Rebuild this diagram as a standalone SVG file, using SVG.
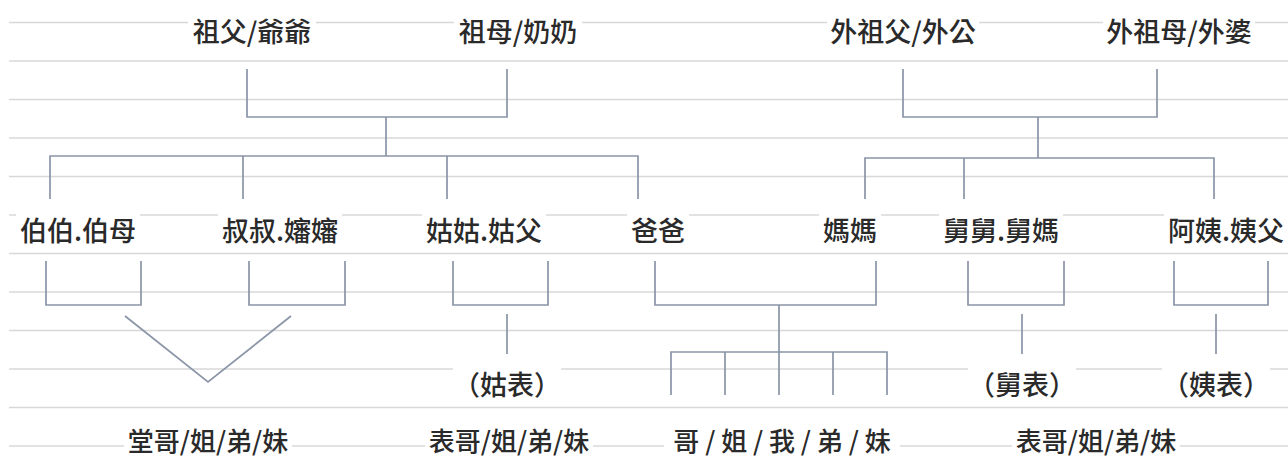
<svg xmlns="http://www.w3.org/2000/svg" width="1288" height="458" viewBox="0 0 1288 458">
<style>
.rule{stroke:#d8d8d8;stroke-width:1.5}
.c{stroke:#8a95a7;stroke-width:1.7;fill:none}
.t{font-family:"Noto Sans CJK TC","Noto Sans CJK SC",sans-serif;font-size:27px;font-weight:500;fill:#2a2a2a;text-anchor:middle;dominant-baseline:central}
.b{font-size:26px}
.bg{fill:#fff}
</style>
<rect width="1288" height="458" fill="#fff"/>
<g id="rules">
<line class="rule" x1="9" y1="22.5" x2="1288" y2="22.5"/>
<line class="rule" x1="9" y1="61" x2="1288" y2="61"/>
<line class="rule" x1="9" y1="99.5" x2="1288" y2="99.5"/>
<line class="rule" x1="9" y1="138" x2="1288" y2="138"/>
<line class="rule" x1="9" y1="176.5" x2="1288" y2="176.5"/>
<line class="rule" x1="9" y1="215" x2="1288" y2="215"/>
<line class="rule" x1="9" y1="253.5" x2="1288" y2="253.5"/>
<line class="rule" x1="9" y1="292" x2="1288" y2="292"/>
<line class="rule" x1="9" y1="330.5" x2="1288" y2="330.5"/>
<line class="rule" x1="9" y1="369" x2="1288" y2="369"/>
<line class="rule" x1="9" y1="407.5" x2="1288" y2="407.5"/>
<line class="rule" x1="9" y1="446" x2="1288" y2="446"/>
</g>
<g id="connectors">
<path class="c" d="M247 69V117H507V69M386 117V156M50 199V156H638V199M243 156V199M447 156V199"/>
<path class="c" d="M903 69V117H1157V69M1038 117V158M865 199V158H1214V199M964 158V199"/>
<path class="c" d="M46 261V305H141V261M249 261V305H345V261"/>
<path class="c" d="M125 316L208 382L291 316"/>
<path class="c" d="M453 261V305H548V261M507 314V354"/>
<path class="c" d="M655 261V305H876V261M779 305V395M671 395V352H887V395M725 352V395M833 352V395"/>
<path class="c" d="M968 261V305H1064V261M1022 314V354"/>
<path class="c" d="M1174 261V305H1268V261M1216 314V354"/>
</g>
<g id="n-zufu"><rect class="bg" x="188" y="15" width="128" height="30"/><text class="t" x="252" y="30">祖父/爺爺</text></g>
<g id="n-zumu"><rect class="bg" x="454" y="15" width="128" height="30"/><text class="t" x="518" y="30">祖母/奶奶</text></g>
<g id="n-waizufu"><rect class="bg" x="827" y="15" width="152" height="30"/><text class="t" x="903" y="30">外祖父/外公</text></g>
<g id="n-waizumu"><rect class="bg" x="1103" y="15" width="152" height="30"/><text class="t" x="1179" y="30">外祖母/外婆</text></g>
<g id="n-bobo"><rect class="bg" x="16" y="214" width="124" height="30"/><text class="t" x="78" y="229">伯伯.伯母</text></g>
<g id="n-shushu"><rect class="bg" x="218" y="214" width="124" height="30"/><text class="t" x="280" y="229">叔叔.嬸嬸</text></g>
<g id="n-gugu"><rect class="bg" x="422" y="214" width="124" height="30"/><text class="t" x="484" y="229">姑姑.姑父</text></g>
<g id="n-baba"><rect class="bg" x="627" y="214" width="62" height="30"/><text class="t" x="658" y="229">爸爸</text></g>
<g id="n-mama"><rect class="bg" x="819" y="214" width="62" height="30"/><text class="t" x="850" y="229">媽媽</text></g>
<g id="n-jiujiu"><rect class="bg" x="939" y="214" width="124" height="30"/><text class="t" x="1001" y="229">舅舅.舅媽</text></g>
<g id="n-ayi"><rect class="bg" x="1164" y="214" width="124" height="30"/><text class="t" x="1226" y="229">阿姨.姨父</text></g>
<g id="n-gubiao"><rect class="bg" x="453" y="368" width="108" height="30"/><text class="t" x="507" y="383">（姑表）</text></g>
<g id="n-jiubiao"><rect class="bg" x="968" y="368" width="108" height="30"/><text class="t" x="1022" y="383">（舅表）</text></g>
<g id="n-yibiao"><rect class="bg" x="1162" y="368" width="108" height="30"/><text class="t" x="1216" y="383">（姨表）</text></g>
<g id="n-tang"><rect class="bg" x="124" y="425" width="168" height="30"/><text class="t b" x="208" y="439">堂哥/姐/弟/妹</text></g>
<g id="n-biao1"><rect class="bg" x="425" y="425" width="168" height="30"/><text class="t b" x="509" y="439">表哥/姐/弟/妹</text></g>
<g id="n-siblings"><rect class="bg" x="664" y="425" width="236" height="30"/><text class="t b" x="782" y="439">哥 / 姐 / 我 / 弟 / 妹</text></g>
<g id="n-biao2"><rect class="bg" x="1012" y="425" width="168" height="30"/><text class="t b" x="1096" y="439">表哥/姐/弟/妹</text></g>
</svg>
